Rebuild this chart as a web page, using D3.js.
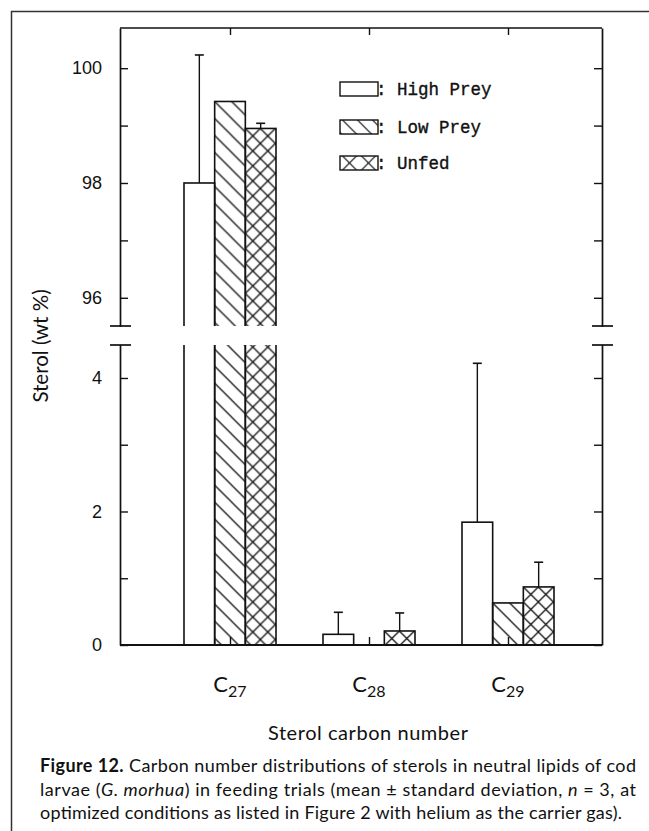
<!DOCTYPE html>
<html>
<head>
<meta charset="utf-8">
<script src="https://cdn.jsdelivr.net/npm/d3@7"></script>
<style>
  html, body { margin: 0; padding: 0; background: #fff; }
  svg { display: block; }
</style>
</head>
<body>
<svg id="chart" width="649" height="831"></svg>
<script>
// Sterol carbon-number distribution (wt %), mean and standard deviation per feeding trial
const categories = ["27", "28", "29"];
const seriesNames = ["High Prey", "Low Prey", "Unfed"];
const highPrey   = [98.0, 0.16, 1.84];
const highPreySd = [2.23, 0.33, 2.38];
const lowPrey    = [99.42, 0.0, 0.63];
const lowPreySd  = [0, 0, 0];
const unfed      = [98.95, 0.21, 0.87];
const unfedSd    = [0.09, 0.27, 0.37];

// Broken value axis: two panels with their own ticks
const upperTicks = [96, 97, 98, 99, 100];
const lowerTicks = [0, 1, 2, 3, 4];
const labelledTicks = [0, 2, 4, 96, 98, 100];

const svg = d3.select("#chart");
const ink = "#111";

// plot frame
const L = 120, R = 602, T = 28, B = 645;
const upper = { top: T, bottom: 326 };
const lower = { top: 345, bottom: B };

const x = d3.scalePoint().domain(categories).range([230, 508]);
const xs = d3.scaleBand().domain(seriesNames).range([-46, 46]).padding(0);
const yU = d3.scaleLinear().domain([95.5, 100.7]).range([upper.bottom + 0.5, upper.top]);
const yL = d3.scaleLinear().domain([0, 4.5]).range([lower.bottom, lower.top - 0.4]);

const values = [highPrey, lowPrey, unfed];
const sds = [highPreySd, lowPreySd, unfedSd];
const fills = ["none", "diag", "cross"];

const rows = [];
categories.forEach((c, ci) => {
  seriesNames.forEach((s, si) => {
    rows.push({ cat: c, ser: s, si, v: values[si][ci], sd: sds[si][ci] });
  });
});

const defs = svg.append("defs");

// hatch patterns anchored to a given origin
function hatch(id, kind, P, ox, oy, sw) {
  const p = defs.append("pattern")
    .attr("id", id)
    .attr("patternUnits", "userSpaceOnUse")
    .attr("x", ox).attr("y", oy)
    .attr("width", P).attr("height", P);
  let d = `M-1,-1L${P + 1},${P + 1}M${P - 1},-1L${P + 1},1M-1,${P - 1}L1,${P + 1}`;
  if (kind === "cross") {
    d += `M-1,${P + 1}L${P + 1},-1M-1,1L1,-1M${P - 1},${P + 1}L${P + 1},${P - 1}`;
  }
  p.append("path").attr("d", d).attr("stroke", ink).attr("stroke-width", sw).attr("fill", "none");
  return `url(#${id})`;
}

// clip regions for the two panels
[["clipU", upper], ["clipL", lower]].forEach(([id, pan]) => {
  defs.append("clipPath").attr("id", id)
    .append("rect").attr("x", L - 2).attr("y", pan.top)
    .attr("width", R - L + 4).attr("height", pan.bottom - pan.top);
});

function drawPanel(y, pan, clipId) {
  const g = svg.append("g").attr("clip-path", `url(#${clipId})`);
  const dom = y.domain();
  rows.forEach((d, i) => {
    if (d.v <= dom[0]) return;
    const x0 = x(d.cat) + xs(d.ser);
    const w = xs.bandwidth();
    const yTop = y(d.v);
    const fill = fills[d.si] === "none" ? "#fff"
      : hatch(`h-${clipId}-${i}`, fills[d.si], fills[d.si] === "diag" ? 17 : 15, x0, yTop, 1.3);
    g.append("rect")
      .attr("x", x0).attr("y", yTop)
      .attr("width", w).attr("height", pan.bottom + 10 - yTop)
      .attr("fill", fill)
      .attr("stroke", ink).attr("stroke-width", 1.6);
    if (d.sd > 0) {
      const cx = x0 + w / 2;
      const yE = y(d.v + d.sd);
      g.append("line").attr("x1", cx).attr("x2", cx).attr("y1", yTop).attr("y2", yE)
        .attr("stroke", ink).attr("stroke-width", 1.4);
      g.append("line").attr("x1", cx - 4.5).attr("x2", cx + 4.5).attr("y1", yE).attr("y2", yE)
        .attr("stroke", ink).attr("stroke-width", 1.6);
    }
  });
}
drawPanel(yU, upper, "clipU");
drawPanel(yL, lower, "clipL");

// frame lines: top and bottom
svg.append("line").attr("x1", L).attr("x2", R).attr("y1", T).attr("y2", T)
  .attr("stroke", ink).attr("stroke-width", 1.6);
svg.append("line").attr("x1", L).attr("x2", R).attr("y1", B).attr("y2", B)
  .attr("stroke", ink).attr("stroke-width", 1.8);

// category ticks along top and bottom, pointing inward
const axTop = svg.append("g").attr("transform", `translate(0,${T})`)
  .call(d3.axisTop(x).tickSize(-7).tickFormat(""));
const axBot = svg.append("g").attr("transform", `translate(0,${B})`)
  .call(d3.axisBottom(x).tickSize(-8).tickFormat(""));
[axTop, axBot].forEach(a => {
  a.select(".domain").remove();
  a.selectAll("line").attr("stroke", ink).attr("stroke-width", 1.4);
});

const fmt = v => labelledTicks.includes(v) ? String(v) : "";

function valueAxes(y, ticks) {
  const gl = svg.append("g").attr("transform", `translate(${L},0)`)
    .call(d3.axisLeft(y).tickValues(ticks).tickSizeInner(-8).tickSizeOuter(0).tickPadding(18).tickFormat(fmt));
  const gr = svg.append("g").attr("transform", `translate(${R},0)`)
    .call(d3.axisRight(y).tickValues(ticks).tickSizeInner(-8).tickSizeOuter(0).tickFormat(""));
  [gl, gr].forEach(a => {
    a.select(".domain").attr("stroke", ink).attr("stroke-width", 1.7);
    a.selectAll(".tick line").attr("stroke", ink).attr("stroke-width", 1.4);
  });
  gl.selectAll(".tick text")
    .attr("font-family", "'Liberation Sans', Arial, sans-serif")
    .attr("font-size", 18).attr("fill", ink);
}
valueAxes(yU, upperTicks);
valueAxes(yL, lowerTicks);

// break marks across both value axes
[L, R].forEach(ax => {
  [upper.bottom, lower.top].forEach(yy => {
    svg.append("line").attr("x1", ax - 10).attr("x2", ax + 11).attr("y1", yy).attr("y2", yy)
      .attr("stroke", ink).attr("stroke-width", 1.7);
  });
});

// legend
const legX = 340, legW = 38, legH = 14;
const legY = [82, 120, 156];
seriesNames.forEach((s, si) => {
  const by = legY[si];
  const fill = fills[si] === "none" ? "#fff"
    : hatch(`leg-${si}`, fills[si], fills[si] === "diag" ? 15 : 19, legX, by + legH / 2 - 9.5, 1.2);
  svg.append("rect").attr("x", legX).attr("y", by).attr("width", legW).attr("height", legH)
    .attr("fill", fill).attr("stroke", ink).attr("stroke-width", 1.4);
  svg.append("text").attr("x", legX + legW - 2).attr("y", by + legH - 1)
    .attr("font-family", "'Liberation Mono', 'Courier New', monospace")
    .attr("font-size", 17.5).attr("fill", ink)
    .attr("stroke", ink).attr("stroke-width", 0.35)
    .text(": " + s);
});

// category labels C27, C28, C29
const capFont = "Lato, 'Open Sans', sans-serif";
categories.forEach(c => {
  const t = svg.append("text").attr("x", x(c)).attr("y", 692)
    .attr("text-anchor", "middle").attr("font-family", capFont).attr("fill", ink);
  t.append("tspan").attr("font-size", 22).text("C");
  t.append("tspan").attr("font-size", 16).attr("dy", 5).text(c);
});

// axis titles
svg.append("text").attr("x", 368).attr("y", 740).attr("text-anchor", "middle")
  .attr("font-family", capFont).attr("font-size", 20).attr("fill", ink)
  .attr("textLength", 200).attr("lengthAdjust", "spacing")
  .text("Sterol carbon number");
svg.append("text").attr("transform", "translate(48,346) rotate(-90)")
  .attr("text-anchor", "middle")
  .attr("font-family", capFont).attr("font-size", 20.5).attr("fill", ink)
  .text("Sterol (wt %)");

// figure caption, justified across the column
const cap = [
  [{ t: "Figure 12.", b: true }, { t: " Carbon number distributions of sterols in neutral lipids of cod" }],
  [{ t: "larvae (" }, { t: "G. morhua", i: true }, { t: ") in feeding trials (mean \u00b1 standard deviation, " }, { t: "n", i: true }, { t: " = 3, at" }],
  [{ t: "optimized conditions as listed in Figure 2 with helium as the carrier gas)." }]
];
const capY = [772, 796, 819];
const capLen = [596, 596, 582];
cap.forEach((parts, li) => {
  const t = svg.append("text").attr("x", 40).attr("y", capY[li])
    .attr("font-family", capFont).attr("font-size", 18).attr("fill", ink)
    .attr("textLength", capLen[li]).attr("lengthAdjust", "spacing");
  parts.forEach(p => {
    const s = t.append("tspan").text(p.t);
    if (p.b) s.attr("font-weight", "bold");
    if (p.i) s.attr("font-style", "italic");
  });
});

// outer figure border (top and left edges)
svg.append("path").attr("d", "M11.5,831V11.5H649")
  .attr("fill", "none").attr("stroke", "#333").attr("stroke-width", 1.5);
</script>
</body>
</html>
